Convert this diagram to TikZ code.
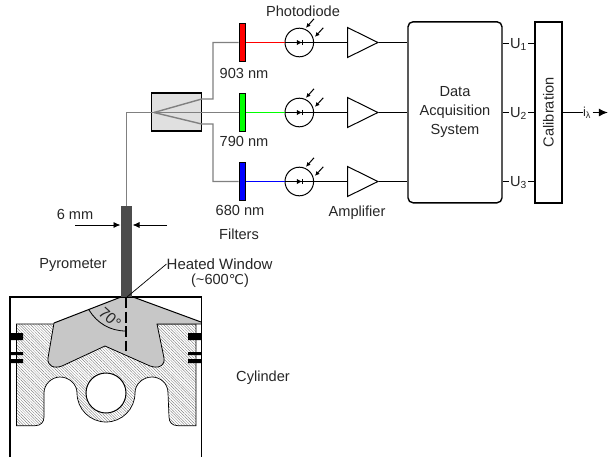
\documentclass[tikz,border=0pt]{standalone}
\usepackage{fontspec}
\setmainfont{Liberation Sans}
\newfontfamily\symfont{DejaVu Sans}
\usetikzlibrary{arrows.meta,patterns.meta,shapes.geometric,positioning}
\tikzset{
  lbl/.style={inner sep=0pt,font=\fontsize{14.6}{16}\selectfont,text=black!85},
  fiber/.style={draw=black!50,line width=1.8pt},
  wire/.style={draw=black,line width=1pt},
  filterbox/.style={draw=black,line width=1pt,minimum width=6.7pt,minimum height=38pt,inner sep=0pt},
  pdiode/.style={circle,draw=black,line width=1pt,minimum size=28.6pt,inner sep=0pt},
  amp/.style={isosceles triangle,isosceles triangle apex angle=54,isosceles triangle stretches,draw=black,line width=1pt,minimum width=30pt,minimum height=30.4pt,inner sep=0pt,anchor=lower side},
  ray/.style={draw=black,line width=1pt,-{Latex[length=4.5pt,width=4.5pt]}},
  dim/.style={draw=black,line width=.9pt,-{Latex[length=7pt,width=6pt]}},
}
\begin{document}
\begin{tikzpicture}[x=1pt,y=-1pt]
\useasboundingbox (0,0) rectangle (608,461);

% piston
\path[pattern={Lines[angle=135,distance=2pt,line width=.28pt]},pattern color=black!60]
  (16.5,324) -- (54,324) -- (48,355) -- (50,367) -- (62,366) -- (105,346) -- (150,367) -- (163,367) -- (157,324) -- (196,324)
  -- (196,425.7) -- (178,425.7) .. controls (172,425.7) and (169,422) .. (169,417) -- (168,393)
  .. controls (168,383) and (160,377) .. (152,377) .. controls (143,377) and (135,384) .. (135,393)
  .. controls (135,409) and (122,422) .. (106,422) .. controls (90,422) and (77,409) .. (77,393)
  .. controls (77,384) and (69,377) .. (60,377) .. controls (52,377) and (44,384) .. (44,393)
  -- (44,417) .. controls (44,422) and (41,425.7) .. (35,425.7) -- (16.5,425.7) -- cycle;
\draw[black,line width=.7pt]
  (54,324) -- (16.5,324) -- (16.5,425.7) -- (35,425.7) .. controls (41,425.7) and (44,422) .. (44,417)
  -- (44,393) .. controls (44,384) and (52,377) .. (60,377) .. controls (69,377) and (77,384) .. (77,393)
  .. controls (77,409) and (90,422) .. (106,422) .. controls (122,422) and (135,409) .. (135,393)
  .. controls (135,384) and (143,377) .. (152,377) .. controls (160,377) and (168,383) .. (168,393)
  -- (169,417) .. controls (169,422) and (172,425.7) .. (178,425.7) -- (196,425.7) -- (196,324) -- (157,324);
\draw[black,line width=1pt,fill=white] (106,393) circle [radius=20];
% combustion chamber
\draw[fill=black!22,draw=none]
  (121,297) -- (133,297) -- (201,322) -- (201,324) -- (157,324) -- (164,358)
  .. controls (165,365) and (160,368) .. (154,367) -- (150,366) -- (105,346) -- (62,366)
  .. controls (54,369) and (47,366) .. (48,358) -- (54,323) -- cycle;
\draw[black,line width=1pt] (54,323) -- (121,297) (133,297) -- (201,322);
\draw[black,line width=.8pt] (201,324) -- (157,324) -- (164,358)
  .. controls (165,365) and (160,368) .. (154,367) -- (150,366) -- (105,346) -- (62,366)
  .. controls (54,369) and (47,366) .. (48,358) -- (54,323);
% cylinder
\draw[black,line width=1.4pt] (10,457) -- (10,297) -- (201.5,297) -- (201.5,457);
% rings
\fill[black] (10,333) rectangle (23,340) (10,352) rectangle (23,355) (10,359) rectangle (23,363)
  (188,333) rectangle (201,340) (188,352) rectangle (201,355) (188,359) rectangle (201,363);
% rod and angle
\node[draw=none,fill=black!70,minimum width=11.6pt,minimum height=91pt,inner sep=0pt] (rod) at (126.5,251.5) {};
\draw[black,line width=1.1pt,dash pattern=on 11pt off 3.5pt] (126,297) -- (126,351);
\draw[black,line width=.8pt] (126,331) .. controls (110,331) and (97,323) .. (89,310);
\node[lbl,rotate=-42,font=\fontsize{15.5}{16}\selectfont] (ang) at (110,318) {70°};

% fibre coupler
\node[draw=black,fill=black!12,line width=1.4pt,minimum width=50pt,minimum height=38pt,inner sep=0pt] (split) at (176.7,112) {};
\coordinate (sp) at (154,112.5);
% filters
\node[filterbox,fill=red] (f1) at (242.4,42.5) {};
\node[filterbox,fill=green] (f2) at (242.4,112.5) {};
\node[filterbox,fill=blue] (f3) at (242.4,181.5) {};
% fibres
\draw[fiber] (rod.north) |- (f2.west);
\draw[fiber,line width=1.4pt] (sp) -- (201.7,99) -- (213,99) |- (f1.west);
\draw[fiber,line width=1.4pt] (sp) -- (201.7,124) -- (213,124) |- (f3.west);
% photodiodes
\node[pdiode] (p1) at (299.3,42.5) {};
\node[pdiode] (p2) at (299.3,112.5) {};
\node[pdiode] (p3) at (299.3,181.5) {};
% amplifiers
\node[amp] (a1) at (347,42.5) {};
\node[amp] (a2) at (347,112.5) {};
\node[amp] (a3) at (347,181.5) {};
% DAQ, calibration
\node[draw=black,line width=1.4pt,rounded corners=5pt,minimum width=94pt,minimum height=181pt,inner sep=0pt,align=center,lbl,font=\fontsize{14.6}{19}\selectfont] (daq) at (455,112.3) {Data\\Acquisition\\System};
\node[draw=black,line width=1.4pt,minimum width=27pt,minimum height=181pt,inner sep=0pt] (cal) at (548.5,112.3) {};
\node[lbl,rotate=90] at (cal.center) {Calibration};
% wires
\foreach \i/\y in {1/42.5,2/112.5,3/181.5}{
  \draw[wire] (p\i.west) -- (a\i.lower side);
  \draw[wire] (a\i.apex) -- (a\i.apex -| daq.west);
  \fill[black] (296.8,\y-2.5) -- (301.6,\y) -- (296.8,\y+2.5) -- cycle;
  \draw[black,line width=.9pt] (302.6,\y-2.6) -- (302.6,\y+2.6);
  \coordinate (r\i a) at (314,\y-23.7); \coordinate (r\i b) at (306,\y-14.7);
  \coordinate (r\i c) at (323.3,\y-14.7); \coordinate (r\i d) at (315,\y-5.7);
  \draw[ray] (r\i a) -- (r\i b);
  \draw[ray] (r\i c) -- (r\i d);
}
% coloured lines
\draw[red,line width=1pt] (f1.east) -- (p1.west);
\draw[green,line width=1pt] (f2.east) -- (p2.west);
\draw[blue,line width=1pt] (f3.east) -- (p3.west);
% U connectors
\foreach \i/\y in {1/43.5,2/112.5,3/181.5}{
  \node[lbl,fill=white,inner xsep=1pt] (u\i) at (518.5,\y+.8) {U\textsubscript{\i}};
  \draw[wire] (daq.east |- 0,\y) -- (u\i.west |- 0,\y);
  \draw[wire] (u\i.east |- 0,\y) -- (cal.west |- 0,\y);
}
% output
\node[lbl,font=\fontsize{13}{14}\selectfont] (il) at (587,113) {i\textsubscript{λ}};
\coordinate (outstart) at (592.5,112.5);
\coordinate (outend) at (607.8,112.5);
\draw[wire] (cal.east |- outend) -- (il.west |- outend);
\draw[line width=1pt,draw=black,-{Latex[length=9pt,width=8pt]}] (outstart) -- (outend);

% labels
\node[lbl] (tpd) at (303,11) {Photodiode};
\node[lbl] (t1) at (244,73) {903 nm};
\node[lbl] (t2) at (244,141) {790 nm};
\node[lbl] (t3) at (240,210) {680 nm};
\node[lbl] (tf) at (239,234) {Filters};
\node[lbl] (tam) at (357,213) {Amplifier};
\node[lbl] (tmm) at (75,214) {6 mm};
\node[lbl] (tpy) at (73,265) {Pyrometer};
\node[lbl,anchor=west,font=\fontsize{15}{16}\selectfont] (thw) at (166.5,264) {Heated Window};
\node[lbl] (ttt) at (220,281) {(\textasciitilde 600{\symfont\fontsize{13.5}{14}\selectfont ℃})};
\node[lbl] (tcy) at (263,378) {Cylinder};
\draw[black,line width=.7pt] (thw.west) -- (127,297);
% 6 mm dimension
\coordinate (dl) at (75,225);
\coordinate (dr) at (167,225);
\draw[dim] (dl) -- (rod.west |- dl);
\draw[dim] (dr) -- (rod.east |- dr);
\end{tikzpicture}
\end{document}
